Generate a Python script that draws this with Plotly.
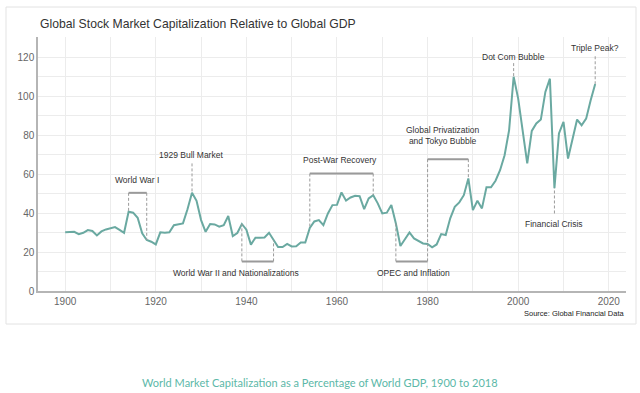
import plotly.graph_objects as go

years = list(range(1900, 2018))
cap_pct = [
    30.1, 30.1, 30.4, 29.2, 29.9, 31.3, 30.8, 28.5, 30.6, 31.6,
    32.4, 32.8, 31.4, 29.9, 40.7, 40.2, 37.6, 29.6, 26.2, 25.3,
    23.9, 30.1, 29.9, 30.1, 33.8, 34.4, 34.7, 42.0, 50.4, 46.3,
    36.4, 30.4, 34.4, 34.2, 33.0, 33.8, 38.5, 28.2, 29.8, 34.4,
    31.5, 23.8, 27.4, 27.4, 27.5, 29.9, 26.0, 22.6, 22.6, 24.2,
    22.9, 23.0, 24.9, 24.9, 32.4, 35.7, 36.4, 33.8, 39.8, 44.1,
    44.2, 50.6, 46.4, 48.0, 48.9, 48.7, 42.0, 47.5, 49.2, 45.0,
    39.8, 40.2, 44.1, 34.7, 23.1, 26.5, 30.1, 27.0, 25.8, 24.4,
    24.1, 22.4, 23.9, 29.2, 28.7, 37.3, 43.2, 45.5, 49.2, 57.8,
    41.5, 46.3, 42.4, 53.2, 53.2, 56.6, 62.0, 69.7, 82.6, 110.0,
    98.8, 82.6, 65.5, 82.2, 86.0, 88.0, 102.2, 109.0, 52.8, 80.9,
    86.8, 68.0, 77.4, 88.0, 85.1, 88.5, 97.9, 106.3,
]

# Bracketed periods: (start year, end year, bracket level)
bracket_starts = [1914, 1954, 1980, 1939, 1973]
bracket_ends = [1918, 1968, 1989, 1946, 1980]
bracket_levels = [50.4, 60.3, 67.7, 15.2, 15.2]

# Single-year pointers: (year, pointer end level)
pointer_years = [1928, 1999, 2017, 2008]
pointer_levels = [65.5, 117.0, 120.5, 39.8]

# Text labels
label_texts = [
    "World War I", "1929 Bull Market", "Post-War Recovery",
    "World War II and Nationalizations", "OPEC and Inflation",
    "Global Privatization<br>and Tokyo Bubble", "Dot Com Bubble",
    "Triple Peak?", "Financial Crisis",
]
label_x = [1915.8, 1927.8, 1960.7, 1937.8, 1976.8, 1983.4, 1999.0, 2016.9, 2007.9]
label_y = [56.9, 69.7, 67.2, 9.4, 9.4, 79.6, 120.2, 125.0, 34.4]

x_ticks = [1900, 1920, 1940, 1960, 1980, 2000, 2020]
y_ticks = [0, 20, 40, 60, 80, 100, 120]

value_of = dict(zip(years, cap_pct))

LINE = "#6aa9a1"
GRID = "#ececec"
BRK = "#9a9a9a"
TXT = "#333333"

fig = go.Figure()
fig.add_trace(go.Scatter(
    x=years, y=cap_pct, mode="lines",
    line=dict(color=LINE, width=2), hoverinfo="x+y", showlegend=False,
))

shapes = []
# outer card
shapes.append(dict(type="rect", xref="paper", yref="paper",
                   x0=-0.0544, x1=1.017, y0=-0.13, y1=1.118,
                   line=dict(color="#e3e3e3", width=1), fillcolor="rgba(0,0,0,0)",
                   layer="below"))
for s, e, lv in zip(bracket_starts, bracket_ends, bracket_levels):
    shapes.append(dict(type="line", xref="x", yref="y", x0=s, x1=e, y0=lv, y1=lv,
                       line=dict(color=BRK, width=2)))
    for yr in (s, e):
        shapes.append(dict(type="line", xref="x", yref="y", x0=yr, x1=yr,
                           y0=lv, y1=value_of[yr],
                           line=dict(color=BRK, width=1, dash="3px,2px")))
for yr, lv in zip(pointer_years, pointer_levels):
    shapes.append(dict(type="line", xref="x", yref="y", x0=yr, x1=yr,
                       y0=lv, y1=value_of[yr],
                       line=dict(color=BRK, width=1, dash="3px,2px")))

annotations = []
for t, x, y in zip(label_texts, label_x, label_y):
    annotations.append(dict(text=t, x=x, y=y, xref="x", yref="y", showarrow=False,
                            xanchor="center", yanchor="middle",
                            font=dict(family="Liberation Sans, Arial", size=8.5, color=TXT)))
annotations.append(dict(text="Global Stock Market Capitalization Relative to Global GDP",
                        x=0, y=1.051, xref="paper", yref="paper", showarrow=False,
                        xanchor="left", yanchor="middle",
                        font=dict(family="Liberation Sans, Arial", size=12.2, color="#333333")))
annotations.append(dict(text="Source: Global Financial Data", x=1, y=-0.088,
                        xref="paper", yref="paper", showarrow=False,
                        xanchor="right", yanchor="middle",
                        font=dict(family="Liberation Sans, Arial", size=7.5, color="#222222")))
annotations.append(dict(text="World Market Capitalization as a Percentage of World GDP, 1900 to 2018",
                        x=0.4796, y=-0.361, xref="paper", yref="paper", showarrow=False,
                        xanchor="center", yanchor="middle",
                        font=dict(family="Lato", size=11, color="#5cb8a8")))

fig.update_layout(
    width=640, height=393,
    margin=dict(l=38, r=14, t=37, b=102, pad=0),
    paper_bgcolor="white", plot_bgcolor="white",
    shapes=shapes, annotations=annotations,
    xaxis=dict(range=[1894, 2023.8], tickvals=x_ticks, showgrid=True, gridcolor=GRID,
               gridwidth=1, minor=dict(dtick=10, tick0=1900, showgrid=True, gridcolor=GRID),
               showline=True, linecolor="#b5b5b5", linewidth=1.5, zeroline=False,
               ticks="", tickfont=dict(family="Liberation Sans, Arial", size=10, color="#666666")),
    yaxis=dict(range=[0, 130.4], tickvals=y_ticks, showgrid=True, gridcolor=GRID,
               gridwidth=1, minor=dict(dtick=10, tick0=0, showgrid=True, gridcolor=GRID),
               showline=True, linecolor="#b5b5b5", linewidth=1.5, zeroline=False,
               ticks="", tickfont=dict(family="Liberation Sans, Arial", size=10, color="#666666")),
)

fig.write_html("out.html", config={"displayModeBar": False},
               post_script="document.body.style.margin='0px';document.body.style.overflow='hidden';")
